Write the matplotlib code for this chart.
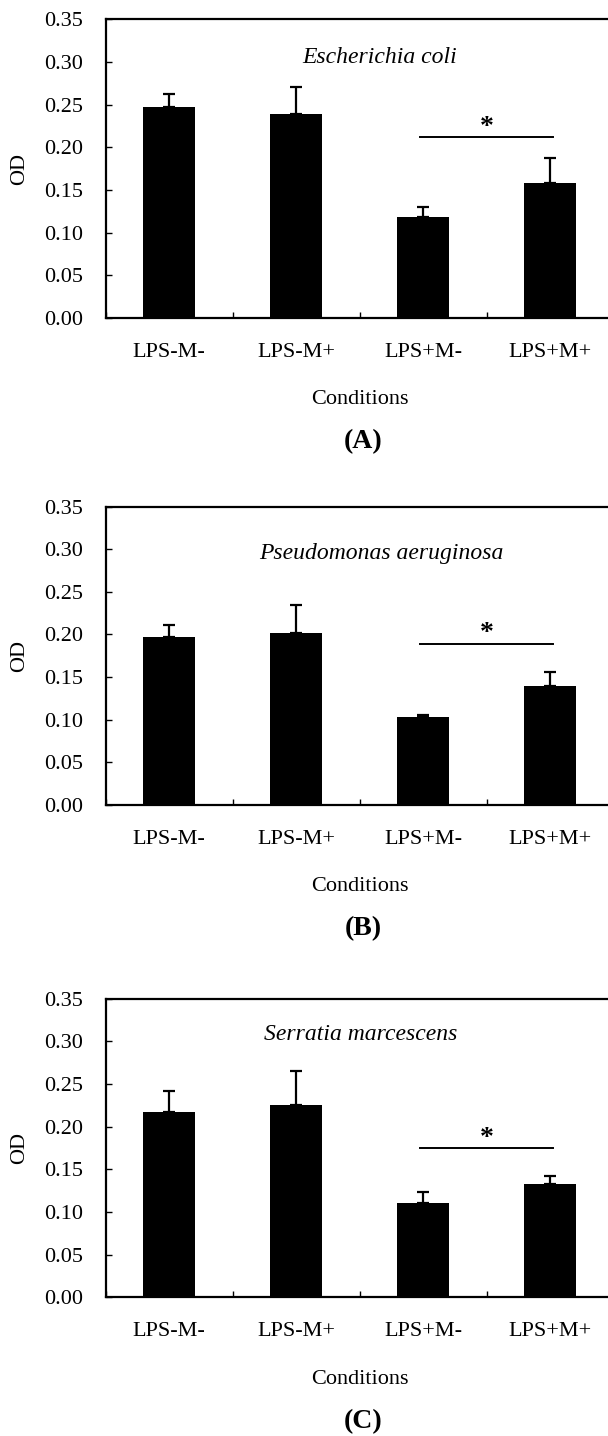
import matplotlib.pyplot as plt

plt.rcParams['font.family'] = ['Liberation Serif', 'DejaVu Serif']

conditions = ['LPS-M-', 'LPS-M+', 'LPS+M-', 'LPS+M+']

ecoli_od = [0.247, 0.239, 0.118, 0.158]
ecoli_err = [0.015, 0.032, 0.012, 0.029]

pa_od = [0.197, 0.202, 0.103, 0.139]
pa_err = [0.014, 0.033, 0.003, 0.017]

sm_od = [0.217, 0.225, 0.110, 0.133]
sm_err = [0.025, 0.040, 0.013, 0.009]

species = ['Escherichia coli', 'Pseudomonas aeruginosa', 'Serratia marcescens']
panel_tags = ['(A)', '(B)', '(C)']
sig_heights = [0.212, 0.189, 0.175]
title_pos = [(2.66, 0.305), (2.67, 0.295), (2.51, 0.308)]

panels = [(ecoli_od, ecoli_err), (pa_od, pa_err), (sm_od, sm_err)]
bottoms = [0.7786, 0.4394, 0.0966]

fig = plt.figure(figsize=(6.08, 14.36), dpi=100)

x = [1, 2, 3, 4]

for k in range(3):
    od, err = panels[k]
    ax = fig.add_axes([105.5 / 608, bottoms[k], 508 / 608, 298.5 / 1436])

    ax.bar(x, od, width=0.41, color='black', zorder=2)
    ax.errorbar(x, od, yerr=[[0] * 4, err], fmt='none', ecolor='black',
                elinewidth=1.6, capsize=4.3, capthick=1.6, zorder=3)

    ax.set_xlim(0.5, 4.5)
    ax.set_ylim(0, 0.35)
    ax.set_yticks([0, 0.05, 0.10, 0.15, 0.20, 0.25, 0.30, 0.35])
    ax.set_yticklabels(['%.2f' % v for v in ax.get_yticks()])
    ax.set_xticks(x)
    ax.set_xticklabels(conditions)
    ax.set_xticks([0.5, 1.5, 2.5, 3.5, 4.5], minor=True)

    ax.tick_params(axis='x', which='major', length=0, pad=18, labelsize=16)
    ax.tick_params(axis='x', which='minor', direction='in', length=4, width=1)
    ax.tick_params(axis='y', direction='in', length=4, width=1, pad=16,
                   labelsize=16)

    for s in ax.spines.values():
        s.set_linewidth(1.6)

    ax.set_ylabel('OD', fontsize=16, labelpad=11)

    # species name
    ax.text(title_pos[k][0], title_pos[k][1], species[k], style='italic',
            fontsize=17, ha='center', va='center')

    # significance bar
    ax.plot([2.98, 4.02], [sig_heights[k], sig_heights[k]], color='black', lw=1.4)
    ax.text(3.5, sig_heights[k] + 0.004, '*', fontsize=20, fontweight='bold',
            ha='center', va='baseline')

    ax.text(0.5, -0.274, 'Conditions', transform=ax.transAxes, fontsize=16,
            ha='center', va='center')
    ax.text(0.508, -0.415, panel_tags[k], transform=ax.transAxes, fontsize=20,
            fontweight='bold', ha='center', va='center')

fig.savefig('out.png', dpi=100)
